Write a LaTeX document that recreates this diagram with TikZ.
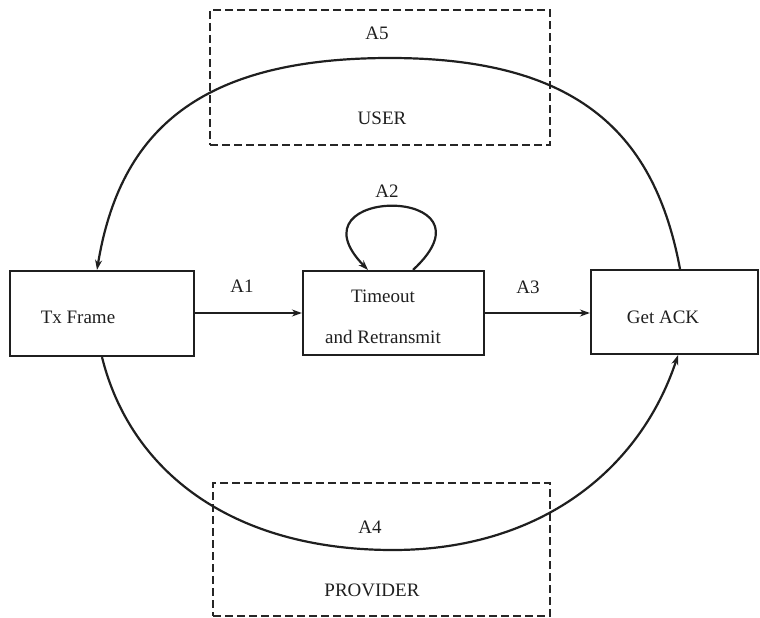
\documentclass[tikz,border=0pt]{standalone}
\usepackage{fontspec}
\setmainfont{Liberation Serif}
\usetikzlibrary{arrows.meta}
\begin{document}
\begin{tikzpicture}[x=1pt,y=-1pt,
  ink/.style={draw=black!88, line width=2.2pt},
  box/.style={ink, rectangle, inner sep=0pt},
  dbox/.style={draw=black!85, line width=2.2pt, dash pattern=on 8pt off 4pt, rectangle, inner sep=0pt},
  lbl/.style={font=\fontsize{19}{23}\selectfont, text=black!88, inner sep=0pt},
  arr/.style={ink, -{Stealth[length=10pt,width=7pt]}}]
\useasboundingbox (0,0) rectangle (760,618);
% dashed regions
\node[dbox, minimum width=340pt, minimum height=135pt] (user) at (380,77.5) {};
\node[dbox, minimum width=337pt, minimum height=133pt] (prov) at (381.5,549.5) {};
% boxes
\node[box, minimum width=184pt, minimum height=85pt] (tx) at (102,313.5) {};
\node[box, minimum width=181pt, minimum height=84pt] (tmo) at (393.5,313) {};
\node[box, minimum width=167pt, minimum height=84pt] (ack) at (674.5,312) {};
% texts
\node[lbl] (txt) at (78,317) {Tx Frame};
\node[lbl] (tmot1) at (383,296) {Timeout};
\node[lbl] (tmot2) at (383,337) {and Retransmit};
\node[lbl] (ackt) at (663,317) {Get ACK};
\node[lbl] (usert) at (382,118) {USER};
\node[lbl] (provt) at (372,590) {PROVIDER};
\node[lbl] (la5) at (377,33) {A5};
\node[lbl] (la2) at (387,191) {A2};
\node[lbl] (la1) at (242,286) {A1};
\node[lbl] (la3) at (528,287) {A3};
\node[lbl] (la4) at (370,527) {A4};
% connectors
\draw[arr] (tx.east |- 0,313) -- (tmo.west |- 0,313);
\draw[arr] (tmo.east |- 0,313) -- (ack.west |- 0,313);
\coordinate (a5top) at (390,58);
\draw[arr] ([xshift=5.5pt]ack.north) .. controls (655,135) and (580,58) .. (a5top)
  .. controls (200,58) and (120,130) .. ([xshift=-5pt]tx.north);
\coordinate (a4bot) at (393,550);
\draw[arr] (tx.south) .. controls (130,470) and (230,550) .. (a4bot)
  .. controls (540,550) and (640,470) .. ([xshift=3.5pt]ack.south);
\draw[arr] ([xshift=19.5pt]tmo.north) .. controls (505,185) and (285,185) .. ([xshift=-25.5pt]tmo.north);
\end{tikzpicture}
\end{document}
